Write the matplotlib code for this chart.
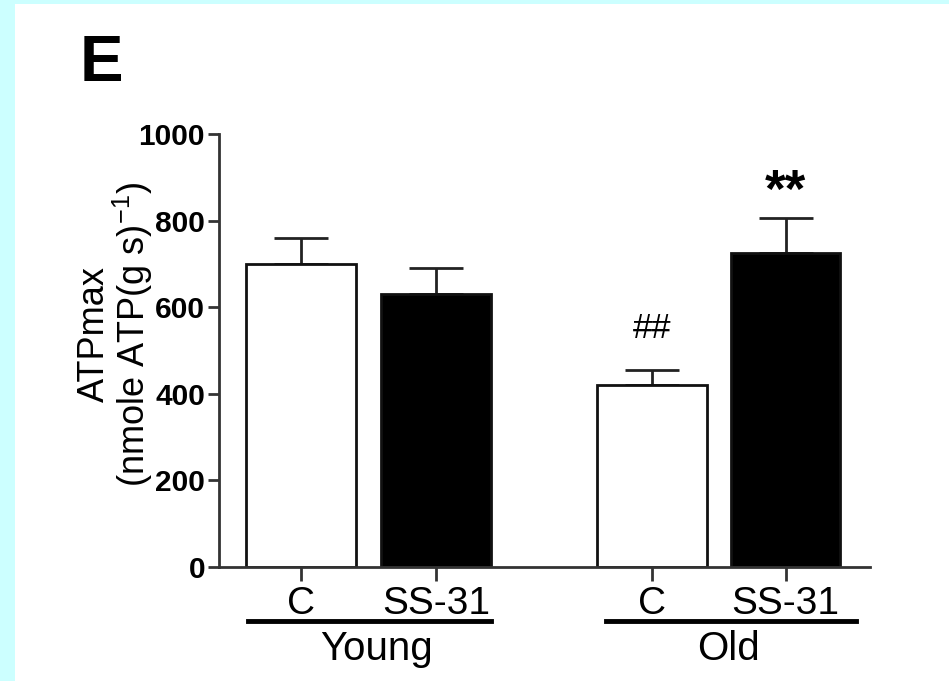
import numpy as np
import matplotlib
matplotlib.use("Agg")
import matplotlib.pyplot as plt
import matplotlib.transforms as mtransforms
from matplotlib.patches import Rectangle

groups = ["Young", "Old"]
treatments = ["C", "SS-31", "C", "SS-31"]
means = [700, 630, 420, 725]
sem = [60, 60, 35, 80]
colors = ["white", "black", "white", "black"]
marks = ["", "", "##", "**"]
positions = [0, 1, 2.6, 3.59]

plt.rcParams['font.family'] = ['Liberation Sans', 'DejaVu Sans']
plt.rcParams['mathtext.fontset'] = 'custom'
plt.rcParams['mathtext.rm'] = 'Liberation Sans'
plt.rcParams['mathtext.default'] = 'regular'

fig = plt.figure(figsize=(9.49, 6.81), dpi=100)
fig.patch.set_facecolor('#ccffff')
W, H = 949, 681
fig.patches.append(Rectangle((15 / W, 0), 1, 1 - 4 / H, transform=fig.transFigure,
                             facecolor='white', edgecolor='none', zorder=-1))

ax = fig.add_axes([219 / W, 114 / H, 651 / W, 433 / H])
ax.set_facecolor('none')

ax.bar(positions, means, width=0.81, color=colors, edgecolor='#111111',
       linewidth=2, zorder=2)
ax.errorbar(positions, means, yerr=[[0] * 4, sem], fmt='none', ecolor='#222222',
            elinewidth=2, capsize=19.5, capthick=2, zorder=1)

for x, m, s, t in zip(positions, means, sem, marks):
    if t == "##":
        ax.text(x, m + s + 95, t, ha='center', va='center', fontsize=25)
    elif t == "**":
        ax.text(x, m + s + 60, t, ha='center', va='center', fontsize=38, fontweight='bold')

ax.set_xlim(-0.607, 4.215)
ax.set_ylim(0, 1000)
ax.set_yticks([0, 200, 400, 600, 800, 1000])
ax.set_xticks(positions)
ax.set_xticklabels(treatments, fontsize=28)
for lab in ax.get_yticklabels():
    lab.set_fontweight('bold')
    lab.set_fontsize(21.5)
ax.tick_params(axis='y', length=8, width=2, color='#333333', pad=2)
ax.tick_params(axis='x', length=10, width=2, color='#333333', pad=4)

for side in ['top', 'right']:
    ax.spines[side].set_visible(False)
for side in ['left', 'bottom']:
    ax.spines[side].set_linewidth(2)
    ax.spines[side].set_color('#333333')

trans = mtransforms.blended_transform_factory(ax.transData, ax.transAxes)
spans = [(positions[0] - 0.39, positions[1] + 0.41), (positions[2] - 0.34, positions[3] + 0.52)]
label_shift = [0.05, -0.02]
for g, (x0, x1), dx in zip(groups, spans, label_shift):
    ax.plot([x0, x1], [-0.125, -0.125], color='black', linewidth=3.5,
            transform=trans, clip_on=False)
    ax.text((x0 + x1) / 2 + dx, -0.19, g, ha='center', va='center', fontsize=29,
            transform=trans)

fig.text(116 / W, 1 - 334 / H, "ATPmax\n(nmole ATP(g s)$^{-1}$)", rotation=90,
         ha='center', va='center', multialignment='center', fontsize=26,
         linespacing=0.95)

fig.text(80 / W, 1 - 64 / H, "E", ha='left', va='center', fontsize=47, fontweight='bold')

fig.savefig("out.png", dpi=100)
